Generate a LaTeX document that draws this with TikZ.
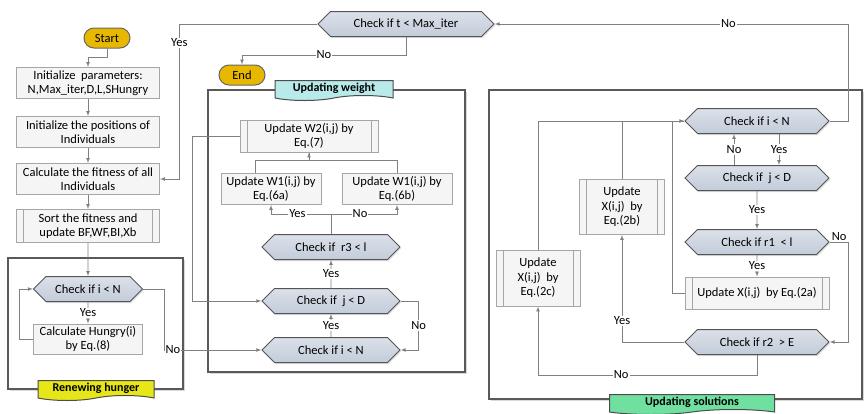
\documentclass[tikz,border=0pt]{standalone}
\usepackage{fontspec}
\setmainfont{Carlito}
\usetikzlibrary{arrows}
\usetikzlibrary{positioning,shapes,shadows}
\definecolor{boxfill}{HTML}{F5F5F5}
\definecolor{boxline}{HTML}{A6A6A6}
\definecolor{hexline}{HTML}{555555}
\definecolor{hexdark}{HTML}{C3CCDA}
\definecolor{flowcol}{HTML}{808080}
\definecolor{gold}{HTML}{E8B800}
\definecolor{hungercol}{HTML}{E6E619}
\definecolor{weightcol}{HTML}{B8EAEA}
\definecolor{solcol}{HTML}{70E0A0}

\begin{document}
\begin{tikzpicture}[%
        x=1pt, y=-1pt,
        every node/.style={align=center, inner sep=1pt, font=\fontsize{12.5}{14.5}\selectfont},
        proc/.style={draw=boxline, fill=boxfill, line width=1pt, minimum width=143pt, minimum height=31pt},
        predef/.style={proc, path picture={
            \draw[boxline, line width=0.8pt] ([xshift=7pt]path picture bounding box.north west) -- ([xshift=7pt]path picture bounding box.south west)
              ([xshift=-7pt]path picture bounding box.north east) -- ([xshift=-7pt]path picture bounding box.south east);}},
        check/.style={signal, signal to=west and east, draw=hexline, line width=1pt,
            top color=hexdark!60, middle color=white, bottom color=hexdark,
            minimum width=138pt, minimum height=25pt,
            drop shadow={opacity=0.25, shadow xshift=1pt, shadow yshift=-1.5pt}},
        term/.style={rounded rectangle, draw=black!60, fill=gold, line width=1pt, minimum width=48pt, minimum height=20pt},
        banner/.style={tape, tape bend top=none, draw=black!70, line width=1pt, minimum height=20pt, font=\bfseries\fontsize{12}{14}\selectfont},
        frame/.style={draw=black!65, line width=2pt, fill=white, drop shadow={opacity=0.3}},
        flow/.style={draw=flowcol, line width=0.7pt, ->},
        line/.style={draw=flowcol, line width=0.7pt},
        lbl/.style={fill=white, inner sep=1pt},
        >=latex
      ]
      \useasboundingbox (0,0) rectangle (868,413);

      % frames
      \draw[frame] (8,258) rectangle (183,389);
      \draw[frame] (208,90) rectangle (465,372);
      \draw[frame] (489,90) rectangle (862,399);

      % left column
      \node [term] (start) at (107,38) {Start};
      \node [proc] (init) at (88,83) {Initialize\ \ parameters:\\N,Max\_iter,D,L,SHungry};
      \node [proc] (pos) at (88,132) {Initialize the positions of\\Individuals};
      \node [proc] (fit) at (88,179) {Calculate the fitness of all\\Individuals};
      \node [predef, minimum height=33pt] (sort) at (88,226) {Sort the fitness and\\update BF,WF,BI,Xb};
      \node [check, minimum width=109pt] (hci) at (88,289) {Check if i < N};
      \node [proc, minimum width=109pt, minimum height=30pt] (hungry) at (88,339) {Calculate Hungry(i)\\by Eq.(8)};
      \node [banner, fill=hungercol, minimum width=116pt] (hlbl) at (96,388) {Renewing hunger};

      % middle
      \node [check, minimum width=176pt] (tmax) at (406,24) {Check if t < Max\_iter};
      \node [term] (end) at (242,75) {End};
      \node [banner, fill=weightcol, minimum width=118pt] (wlbl) at (334,88) {Updating weight};
      \node [predef, minimum width=138pt, minimum height=32pt] (w2) at (309,136) {Update W2(i,j) by\\Eq.(7)};
      \node [proc, minimum width=100pt] (w1a) at (271,189) {Update W1(i,j) by\\Eq.(6a)};
      \node [proc, minimum width=110pt] (w1b) at (397,189) {Update W1(i,j) by\\Eq.(6b)};
      \node [check] (r3) at (331,247) {Check if\ \ r3 < l};
      \node [check] (wj) at (331,301) {Check if\ \ j < D};
      \node [check] (wi) at (331,350) {Check if i < N};

      % right
      \node [check, minimum width=144pt] (si) at (757,121) {Check if i < N};
      \node [check, minimum width=144pt] (sj) at (757,178) {Check if\ \ j < D};
      \node [check, minimum width=144pt] (r1) at (757,242) {Check if r1\ \ < l};
      \node [predef, minimum width=144pt, minimum height=32pt] (x2a) at (757,293) {Update X(i,j)\ \ by Eq.(2a)};
      \node [check, minimum width=144pt] (r2) at (757,342) {Check if r2\ \ > E};
      \node [predef, minimum width=85pt, minimum height=55pt] (x2b) at (622,207) {Update\\X(i,j)\ \ by\\Eq.(2b)};
      \node [predef, minimum width=84pt, minimum height=56pt] (x2c) at (538,278) {Update\\X(i,j)\ \ by\\Eq.(2c)};
      \node [banner, fill=solcol, minimum width=165pt] (slbl) at (692,402) {Updating solutions};

      % left connectors
      \draw [flow] (start.south) -- ++(0,9) -| (init.north);
      \draw [flow] (init) -- (pos);
      \draw [flow] (pos) -- (fit);
      \draw [flow] (fit) -- (sort);
      \draw [flow] (sort) -- (hci);
      \draw [flow] (hci) -- node[lbl] {Yes} (hungry);
      \draw [flow] (hungry.west) -- ++(-14,0) |- (hci.west);
      \draw [flow] (hci.east) -- ++(21,0) |- node[lbl, pos=0.5, anchor=west] {No} (wi.west);
      \draw [flow] (tmax.west) -- ++(-138,0) |- node[lbl, pos=0.06] {Yes} (fit.east);
      \draw [flow] (tmax.south) -- ++(0,18) -| node[lbl, pos=0.25] {No} (end.north);

      % weight connectors
      \draw [flow] (w2.west) -- ++(-47,0) |- (wj.west);
      \draw [flow] ([xshift=-16pt]w1a.north) -- ++(0,-13) -| (w2.south);
      \draw [line] (w1b.north) -- ++(0,-13) -| (w2.south);
      \draw [flow] (r3.north) -- ++(0,-20) -| node[lbl, pos=0.28] {Yes} (w1a.south);
      \draw [flow] (r3.north) -- ++(0,-20) -| node[lbl, pos=0.22] {No} (w1b.south);
      \draw [flow] (wj) -- node[lbl] {Yes} (r3);
      \draw [flow] (wi) -- node[lbl] {Yes} (wj);
      \draw [flow] (wj.east) -- ++(18,0) |- node[lbl, pos=0.25] {No} (wi.east);

      % solution connectors
      \draw [flow] (si.east) -- ++(19,0) |- node[lbl, pos=0.67] {No} (tmax.east);
      \draw [flow] ([xshift=22pt]si.south) -- node[lbl] {Yes} ([xshift=22pt]sj.north);
      \draw [flow] ([xshift=-23pt]sj.north) -- node[lbl] {No} ([xshift=-23pt]si.south);
      \draw [flow] (sj) -- node[lbl] {Yes} (r1);
      \draw [flow] (r1) -- node[lbl] {Yes} (x2a);
      \draw [flow] (r1.east) -- node[above, inner sep=1pt] {No} ++(19,0) |- (r2.east);
      \draw [flow] (x2a.west) -- ++(-12,0) |- (si.west);
      \draw [line] (x2b.north) |- (si.west);
      \draw [line] (x2c.north) |- (si.west);
      \draw [flow] (r2.west) -| node[lbl, pos=0.6] {Yes} (x2b.south);
      \draw [flow] (r2.south) -- ++(0,20) -| node[lbl, pos=0.31] {No} (x2c.south);
    \end{tikzpicture}
\end{document}
